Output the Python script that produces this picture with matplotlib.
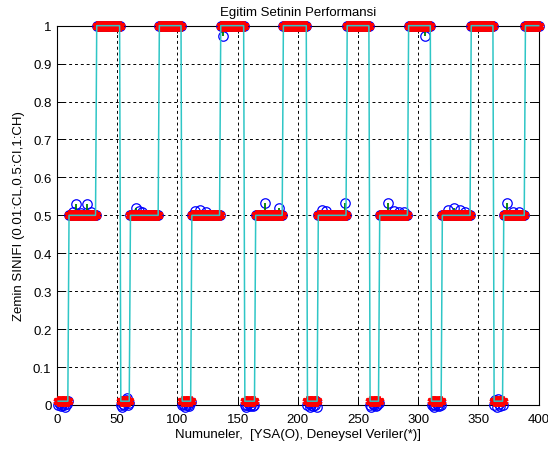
import numpy as np
import matplotlib
matplotlib.use("Agg")
import matplotlib.pyplot as plt

plt.rcParams['font.family'] = ['Liberation Sans', 'DejaVu Sans']
plt.rcParams['font.size'] = 9

# Soil class targets: each cycle is CL (0.01), CI (0.5), CH (1.0)
levels = [0.01, 0.5, 1.0] * 8
seg_lengths = [9, 23, 20, 8, 24, 19, 8, 24, 20, 9, 23, 20,
               9, 24, 19, 8, 24, 19, 9, 24, 19, 8, 18, 12]

# Network outputs inside the CL segments
low_outputs = [
    [0.0, 0.004, -0.003, 0.0, 0.006, 0.0, -0.004, 0.002, 0.01],
    [0.0, -0.004, 0.003, 0.0, 0.012, 0.018, 0.0, 0.004],
    [0.0, 0.003, -0.004, 0.0, 0.006, 0.0, -0.002, 0.008],
    [0.0, -0.004, 0.0, 0.005, -0.003, 0.0, 0.008, -0.002, 0.0],
    [0.0, 0.004, -0.005, 0.0, 0.006, -0.003, 0.0, 0.01, -0.004],
    [0.0, -0.004, 0.003, 0.0, 0.007, -0.002, 0.0, 0.005],
    [0.0, 0.003, -0.005, 0.0, 0.004, 0.0, -0.003, 0.008, 0.0],
    [0.0, 0.012, -0.004, 0.016, 0.003, -0.003, 0.01, 0.0],
]

# Network outputs that differ from the CI / CH targets (sample number -> output)
mid_high_outputs = {
    13: 0.51, 16: 0.53, 20: 0.505, 25: 0.53, 28: 0.51,
    66: 0.52, 68: 0.512, 71: 0.508,
    115: 0.512, 119: 0.515, 124: 0.51,
    138: 0.972,
    173: 0.533, 184: 0.52,
    220: 0.515, 223: 0.512, 239: 0.533,
    275: 0.533, 280: 0.512, 284: 0.51, 288: 0.51,
    306: 0.972,
    325: 0.515, 330: 0.52, 335: 0.515, 339: 0.51,
    374: 0.533, 379: 0.51, 384: 0.51,
}

x_ticks = [0, 50, 100, 150, 200, 250, 300, 350, 400]
y_ticks = [0, 0.1, 0.2, 0.3, 0.4, 0.5, 0.6, 0.7, 0.8, 0.9, 1]
y_tick_labels = ['0', '0.1', '0.2', '0.3', '0.4', '0.5', '0.6', '0.7', '0.8', '0.9', '1']

# Build series
target = np.repeat(levels, seg_lengths)
n = len(target)
samples = np.arange(1, n + 1)
output = target.astype(float).copy()
pos = 0
low_iter = iter(low_outputs)
for lev, ln in zip(levels, seg_lengths):
    if lev == 0.01:
        output[pos:pos + ln] = next(low_iter)
    pos += ln
for k, v in mid_high_outputs.items():
    output[k - 1] = v

fig = plt.figure(figsize=(5.48, 4.52), dpi=100)
ax = fig.add_axes([0.104, 0.1018, 0.879, 0.8392])

ax.plot(samples, output, linestyle='none', marker='o', markersize=6.8,
        markerfacecolor='none', markeredgecolor='#0000ff', markeredgewidth=0.9,
        clip_on=False, zorder=3)
ax.vlines(samples, target, output, colors='#008000', linewidth=1.3, zorder=4)
ax.plot(samples, target, linestyle='none', marker=(6, 2, 0), markersize=7,
        markeredgecolor='#ff0000', markeredgewidth=2.2, clip_on=False, zorder=5)
ax.plot(samples, target, color='#2fc6c6', linewidth=1.1, zorder=6, clip_on=False)

ax.set_xlim(0, 400)
ax.set_ylim(0, 1)
ax.set_xticks(x_ticks)
ax.set_yticks(y_ticks)
ax.set_yticklabels(y_tick_labels)
ax.grid(True, color='black', linestyle=(0, (3, 3)), linewidth=0.7)
ax.set_axisbelow(True)
ax.tick_params(direction='in', length=5, top=True, right=True, width=0.7,
               labelsize=9.5)
ax.tick_params(axis='x', pad=6)
ax.tick_params(axis='y', pad=4)
for sp in ax.spines.values():
    sp.set_linewidth(0.8)

ax.set_title('Egitim Setinin Performansi', fontsize=9.5, pad=8)
ax.set_xlabel('Numuneler,  [YSA(O), Deneysel Veriler(*)]', fontsize=9.5, labelpad=2)
ax.set_ylabel('Zemin SINIFI (0.01:CL,0.5:CI,1:CH)', fontsize=9.5, labelpad=6)

fig.savefig('out.png', dpi=100)
